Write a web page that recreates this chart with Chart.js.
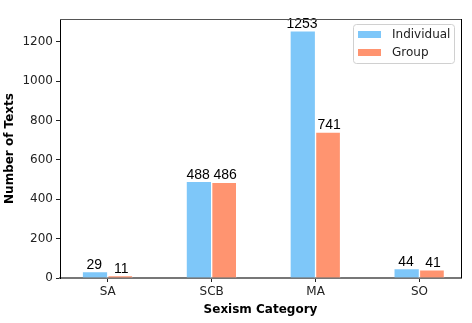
<!DOCTYPE html>
<html>
<head>
<meta charset="utf-8">
<script src="https://cdn.jsdelivr.net/npm/chart.js@4"></script>
<style>
  html, body { margin: 0; padding: 0; background: #fff; }
  #wrap { width: 472px; height: 323px; }
</style>
</head>
<body>
<div id="wrap"><canvas id="sexismChart" width="472" height="323"></canvas></div>
<script>
// ===== data =====
const categories = ['SA', 'SCB', 'MA', 'SO'];
const individualCounts = [29, 488, 1253, 44];
const groupCounts = [11, 486, 741, 41];
const yTicks = [0, 200, 400, 600, 800, 1000, 1200];

const BLUE = '#7ec7f9';
const ORANGE = '#ff9470';

// value labels on top of each bar
const valueLabels = {
  id: 'valueLabels',
  afterDatasetsDraw(chart) {
    const ctx = chart.ctx;
    ctx.save();
    ctx.font = '14px "Liberation Sans", Arial, sans-serif';
    ctx.fillStyle = '#000';
    ctx.textAlign = 'center';
    ctx.textBaseline = 'alphabetic';
    chart.data.datasets.forEach((ds, di) => {
      chart.getDatasetMeta(di).data.forEach((bar, i) => {
        const shift = di === 0 ? -1 : 1;
        ctx.fillText(String(ds.data[i].y), bar.x + shift, bar.y - 3);
      });
    });
    ctx.restore();
  }
};

// top / right spines + legend box
const frameAndLegend = {
  id: 'frameAndLegend',
  afterDraw(chart) {
    const { ctx, chartArea: a } = chart;
    ctx.save();
    ctx.strokeStyle = '#555';
    ctx.lineWidth = 1;
    ctx.beginPath();
    ctx.moveTo(a.left, a.top + 0.5);
    ctx.lineTo(a.right, a.top + 0.5);
    ctx.stroke();
    ctx.strokeStyle = '#000';
    ctx.beginPath();
    ctx.moveTo(a.right + 0.5, a.top);
    ctx.lineTo(a.right + 0.5, a.bottom);
    ctx.stroke();

    // legend
    const bx = 353.5, by = 24.5, bw = 101, bh = 39;
    ctx.fillStyle = 'rgba(255,255,255,0.8)';
    ctx.strokeStyle = '#d0d0d0';
    ctx.beginPath();
    ctx.roundRect(bx, by, bw, bh, 3);
    ctx.fill();
    ctx.stroke();
    ctx.font = '12px "DejaVu Sans", sans-serif';
    ctx.textBaseline = 'middle';
    ctx.textAlign = 'left';
    chart.data.datasets.forEach((ds, i) => {
      const cy = 34 + i * 18;
      ctx.fillStyle = ds.backgroundColor;
      ctx.fillRect(358, cy - 3, 23, 7);
      ctx.fillStyle = '#222';
      ctx.fillText(ds.label, 392, cy + 1);
    });
    ctx.restore();
  }
};

const toPoints = arr => arr.map((v, i) => ({ x: i, y: v }));

new Chart(document.getElementById('sexismChart'), {
  type: 'bar',
  data: {
    datasets: [
      { label: 'Individual', data: toPoints(individualCounts), backgroundColor: BLUE,
        borderColor: '#fff', borderWidth: { right: 1 }, borderSkipped: false, barThickness: 25 },
      { label: 'Group', data: toPoints(groupCounts), backgroundColor: ORANGE,
        borderColor: 'rgba(255,255,255,0.5)', borderWidth: 1, borderSkipped: 'bottom', barThickness: 25 }
    ]
  },
  options: {
    responsive: false,
    animation: false,
    layout: { padding: { top: 19, right: 11, left: 3, bottom: 6 } },
    plugins: { legend: { display: false }, tooltip: { enabled: false } },
    scales: {
      x: {
        type: 'linear',
        offset: false,
        min: -0.46,
        max: 3.4,
        afterBuildTicks: axis => { axis.ticks = categories.map((c, i) => ({ value: i })); },
        afterFit: axis => { axis.height = 39; },
        ticks: {
          callback: v => categories[v],
          color: '#222',
          font: { family: 'DejaVu Sans', size: 12 },
          padding: 3,
          maxRotation: 0
        },
        grid: { display: true, offset: false, drawOnChartArea: false, drawTicks: true, tickLength: 4, tickColor: '#222' },
        border: { color: '#777', width: 2 },
        title: {
          display: true,
          text: 'Sexism Category',
          color: '#000',
          font: { family: 'DejaVu Sans', size: 12, weight: 'bold' },
          padding: { top: 2, bottom: 0 }
        }
      },
      y: {
        min: 0,
        max: 1316,
        afterBuildTicks: axis => { axis.ticks = yTicks.map(v => ({ value: v })); },
        afterFit: axis => { axis.width = 57; },
        ticks: {
          callback: v => String(v),
          color: '#222',
          font: { family: 'DejaVu Sans', size: 12 },
          padding: 3
        },
        grid: { display: true, drawOnChartArea: false, drawTicks: true, tickLength: 4, tickColor: '#222' },
        border: { color: '#000', width: 1 },
        title: {
          display: true,
          text: 'Number of Texts',
          color: '#000',
          font: { family: 'DejaVu Sans', size: 12, weight: 'bold' },
          padding: { top: 0, bottom: 2 }
        }
      }
    }
  },
  plugins: [valueLabels, frameAndLegend]
});
</script>
</body>
</html>
